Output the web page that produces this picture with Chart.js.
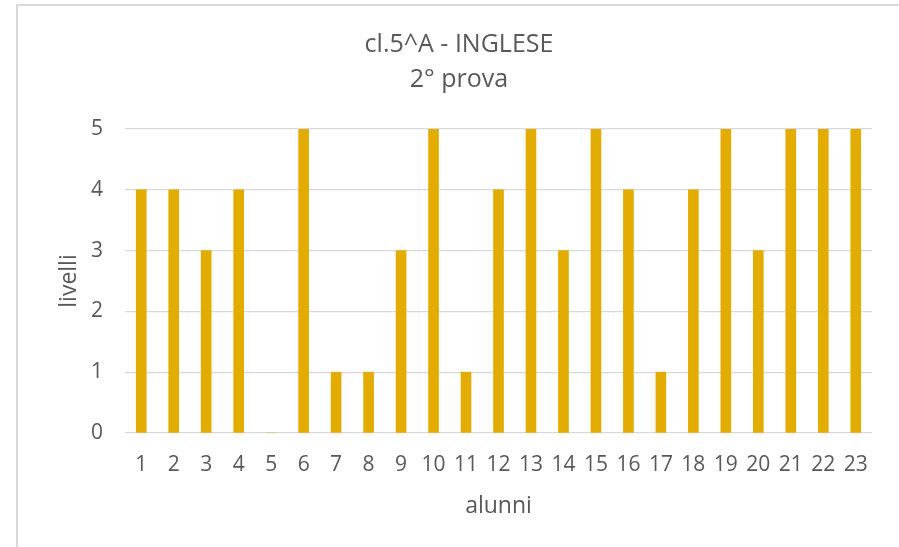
<!DOCTYPE html>
<html>
<head>
<meta charset="utf-8">
<script src="https://cdn.jsdelivr.net/npm/chart.js@4"></script>
<style>
    html, body { margin: 0; padding: 0; background: #fff; overflow: hidden; }
    #cornice {
        position: absolute; left: 16px; top: 4px;
        width: 920px; height: 580px;
        border: 2px solid #d9d9d9;
    }
    #box { position: absolute; left: 0; top: 0; width: 899px; height: 547px; }
</style>
</head>
<body>
<div id="cornice"></div>
<div id="box"><canvas id="myChart"></canvas></div>
<script>
//Dati del grafico
var alunni = ['1', '2', '3', '4', '5', '6', '7', '8', '9', '10', '11', '12',
    '13', '14', '15', '16', '17', '18', '19', '20', '21', '22', '23'];
var livelli = [4, 4, 3, 4, 0, 5, 1, 1, 3, 5, 1, 4, 5, 3, 5, 4, 1, 4, 5, 3, 5, 5, 5];
var titolo = ['cl.5^A - INGLESE', '2° prova'];

var grigio = '#595959';
var font = 'Open Sans';

var ctx = document.getElementById('myChart').getContext('2d');

new Chart(ctx, {
    type: 'bar',
    data: {
        labels: alunni,
        datasets: [{
            label: 'livelli',
            backgroundColor: '#E2AC00',
            borderWidth: 0,
            barThickness: 10,
            data: livelli
        }]
    },
    options: {
        responsive: true,
        maintainAspectRatio: false,
        animation: false,
        layout: { padding: { left: 46, right: 27, top: 0, bottom: 0 } },
        plugins: {
            legend: { display: false },
            tooltip: { enabled: false },
            title: {
                display: true,
                text: titolo,
                color: grigio,
                font: { family: font, size: 25, weight: 'normal', lineHeight: 1.4 },
                padding: { top: 27, bottom: 32 }
            }
        },
        scales: {
            x: {
                grid: { display: false, drawTicks: false },
                border: { display: false },
                ticks: {
                    color: grigio,
                    font: { family: font, size: 21 },
                    padding: 19,
                    maxRotation: 0,
                    autoSkip: false
                },
                title: {
                    display: true,
                    text: 'alunni',
                    color: grigio,
                    font: { family: font, size: 23 },
                    padding: { top: 0, bottom: 27 }
                },
                afterFit: function(scale) { scale.height = 114; }
            },
            y: {
                min: 0,
                max: 5,
                grid: { color: '#d9d9d9', lineWidth: 1.3, drawTicks: false },
                border: { display: false },
                ticks: {
                    stepSize: 1,
                    color: grigio,
                    font: { family: font, size: 21 },
                    padding: 22
                },
                title: {
                    display: true,
                    text: 'livelli',
                    color: grigio,
                    font: { family: font, size: 23 },
                    padding: { top: 10, bottom: 0 }
                },
                afterFit: function(scale) { scale.width = 79; }
            }
        }
    }
});
</script>
</body>
</html>
